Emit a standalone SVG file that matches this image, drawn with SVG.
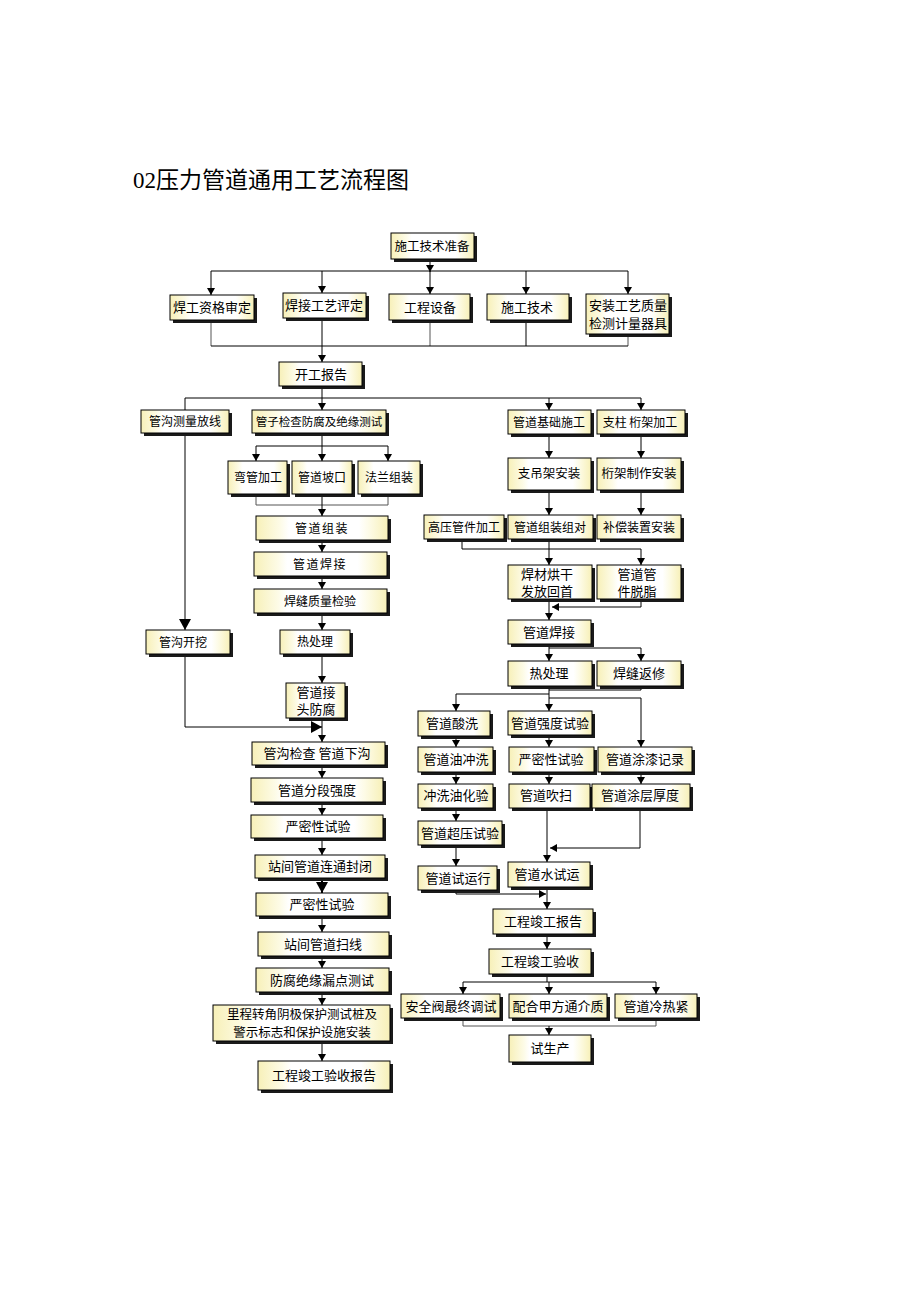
<svg xmlns="http://www.w3.org/2000/svg" width="920" height="1302" viewBox="0 0 920 1302">
<defs>
<linearGradient id="g" x1="0" y1="0" x2="1" y2="0">
<stop offset="0" stop-color="#f7f0b8"/>
<stop offset="0.18" stop-color="#fdfbe6"/>
<stop offset="0.25" stop-color="#ffffff"/>
<stop offset="0.78" stop-color="#ffffff"/>
<stop offset="0.86" stop-color="#fdfbe6"/>
<stop offset="1" stop-color="#f7f0b8"/>
</linearGradient>
<marker id="a" markerUnits="userSpaceOnUse" markerWidth="8" markerHeight="8" refX="7" refY="4" orient="auto"><path d="M0,0 L7,4 L0,8 z" fill="#000"/></marker>
<marker id="A" markerUnits="userSpaceOnUse" markerWidth="12" markerHeight="12" refX="11" refY="6" orient="auto"><path d="M0,0 L11,6 L0,12 z" fill="#000"/></marker>
<style>
.s{fill:#1a1a1a}
.b{fill:url(#g);stroke:#000;stroke-width:1}
text{font-family:"Noto Sans CJK SC","Noto Sans CJK JP",sans-serif;font-size:12.5px;text-anchor:middle;fill:#000}
.t{font-family:"Liberation Serif","Noto Sans CJK SC",serif;font-size:23px;text-anchor:start}
.c path{fill:none;stroke:#000;stroke-width:1}
.c path.m{marker-end:url(#a)}
.c path.M{marker-end:url(#A)}
.c path.g{stroke:#555}
</style>
</defs>
<rect width="920" height="1302" fill="#fff"/>
<text class="t" x="133" y="188">02<tspan font-family="Noto Sans CJK SC,sans-serif">压力管道通用工艺流程图</tspan></text>

<g class="c" id="connectors">
<path class="m" d="M430,259 V272"/>
<path d="M211,271 H628"/>
<path class="m" d="M211,271 V295"/>
<path class="m" d="M322,271 V293"/>
<path class="m" d="M430,271 V294"/>
<path class="m" d="M526,271 V294"/>
<path class="m" d="M628,271 V294"/>
<path class="g" d="M211,320 V346"/>
<path class="g" d="M430,320 V346"/>
<path d="M526,320 V346"/>
<path class="g" d="M628,334 V346"/>
<path d="M211,346 H628"/>
<path class="m" d="M322,318 V362"/>
<path d="M322,386 V398"/>
<path d="M185,398 H641"/>
<path d="M185,398 V410"/>
<path class="m" d="M322,398 V410"/>
<path class="m" d="M549,398 V410"/>
<path class="m" d="M641,398 V410"/>
<path class="M" d="M185,433 V630"/>
<path d="M322,433 V446"/>
<path d="M256,446 H388"/>
<path class="m" d="M256,446 V461"/>
<path class="m" d="M322,446 V461"/>
<path class="m" d="M388,446 V461"/>
<path class="g" d="M256,494 V505 H388 V494"/>
<path class="m" d="M322,494 V516"/>
<path class="m" d="M322,540 V552"/>
<path class="m" d="M322,576 V589"/>
<path class="m" d="M322,613 V630"/>
<path class="m" d="M322,654 V683"/>
<path class="m" d="M322,718 V742"/>
<path class="M" d="M185,654 V727 H322"/>
<path class="m" d="M322,765 V778"/>
<path class="m" d="M322,802 V815"/>
<path class="m" d="M322,838 V855"/>
<path class="M" d="M322,878 V893" style="stroke-width:2"/>
<path class="m" d="M322,916 V932"/>
<path class="m" d="M322,956 V968"/>
<path class="m" d="M322,992 V1005"/>
<path class="m" d="M322,1041 V1061"/>
<path class="m" d="M549,434 V458"/>
<path class="m" d="M641,434 V458"/>
<path class="m" d="M549,490 V515"/>
<path class="m" d="M641,490 V515"/>
<path d="M462,539 V549 H641"/>
<path class="m" d="M549,539 V565"/>
<path class="m" d="M641,549 V565"/>
<path class="m" d="M641,599 V607 H552"/>
<path class="m" d="M549,599 V620"/>
<path class="m" d="M549,644 V661"/>
<path class="m" d="M549,648 H641 V661"/>
<path class="m" d="M549,686 V711"/>
<path d="M641,686 V690 H549"/>
<path d="M456,694 H549"/>
<path class="m" d="M456,694 V711"/>
<path class="m" d="M549,698 H641 V747"/>
<path class="m" d="M456,736 V747"/>
<path class="m" d="M456,772 V784"/>
<path class="m" d="M456,808 V821"/>
<path class="m" d="M456,845 V866"/>
<path class="m" d="M549,735 V747"/>
<path class="m" d="M549,772 V784"/>
<path class="m" d="M641,772 V784"/>
<path class="m" d="M547,808 V862"/>
<path class="m" d="M640,808 V848 H550"/>
<path class="m" d="M456,890 V894 H546"/>
<path class="m" d="M547,887 V909"/>
<path class="m" d="M547,934 V949"/>
<path d="M547,974 V982"/>
<path d="M463,982 H656"/>
<path class="m" d="M463,982 V994"/>
<path class="m" d="M549,982 V994"/>
<path class="m" d="M656,982 V994"/>
<path class="g" d="M463,1018 V1026 H656 V1018"/>
<path class="m" d="M549,1026 V1035"/>
</g>

<g id="n_sgjszb"><rect class="s" x="394" y="236" width="83" height="26"/><rect class="b" x="391" y="233" width="83" height="26"/><text x="432" y="251">施工技术准备</text></g>
<g id="n_hgzg"><rect class="s" x="173" y="298" width="84" height="25"/><rect class="b" x="170" y="295" width="84" height="25"/><text x="212" y="312" style="font-size:13px">焊工资格审定</text></g>
<g id="n_hjgy"><rect class="s" x="286" y="296" width="83" height="25"/><rect class="b" x="283" y="293" width="83" height="25"/><text x="324" y="310" style="font-size:13px">焊接工艺评定</text></g>
<g id="n_gcsb"><rect class="s" x="392" y="297" width="81" height="26"/><rect class="b" x="389" y="294" width="81" height="26"/><text x="430" y="312" style="font-size:13px">工程设备</text></g>
<g id="n_sgjs"><rect class="s" x="490" y="297" width="82" height="26"/><rect class="b" x="487" y="294" width="82" height="26"/><text x="527" y="312" style="font-size:13px">施工技术</text></g>
<g id="n_azgy"><rect class="s" x="589" y="297" width="83" height="40"/><rect class="b" x="586" y="294" width="83" height="40"/><text x="628" y="310" style="font-size:13px">安装工艺质量</text><text x="628" y="328" style="font-size:13px">检测计量器具</text></g>
<g id="n_kgbg"><rect class="s" x="282" y="365" width="83" height="24"/><rect class="b" x="279" y="362" width="83" height="24"/><text x="321" y="379" style="font-size:13px">开工报告</text></g>
<g id="n_gcclfx"><rect class="s" x="144" y="413" width="88" height="23"/><rect class="b" x="141" y="410" width="88" height="23"/><text x="185" y="426" style="font-size:12px">管沟测量放线</text></g>
<g id="n_gzjc"><rect class="s" x="255" y="413" width="134" height="23"/><rect class="b" x="252" y="410" width="134" height="23"/><text x="319" y="426" style="font-size:11.5px">管子检查防腐及绝缘测试</text></g>
<g id="n_wgjg"><rect class="s" x="231" y="464" width="59" height="33"/><rect class="b" x="228" y="461" width="59" height="33"/><text x="258" y="482" style="font-size:12px">弯管加工</text></g>
<g id="n_gdpk"><rect class="s" x="295" y="464" width="60" height="33"/><rect class="b" x="292" y="461" width="60" height="33"/><text x="322" y="482" style="font-size:12px">管道坡口</text></g>
<g id="n_flzz"><rect class="s" x="361" y="464" width="62" height="33"/><rect class="b" x="358" y="461" width="62" height="33"/><text x="389" y="482" style="font-size:12px">法兰组装</text></g>
<g id="n_gdzz"><rect class="s" x="259" y="519" width="132" height="24"/><rect class="b" x="256" y="516" width="132" height="24"/><text x="322" y="533" style="font-size:12px;letter-spacing:1.5px">管道组装</text></g>
<g id="n_gdhj"><rect class="s" x="257" y="555" width="133" height="24"/><rect class="b" x="254" y="552" width="133" height="24"/><text x="320" y="569" style="font-size:12px;letter-spacing:1.5px">管道焊接</text></g>
<g id="n_hfzl"><rect class="s" x="257" y="592" width="133" height="24"/><rect class="b" x="254" y="589" width="133" height="24"/><text x="320" y="606" style="font-size:12px">焊缝质量检验</text></g>
<g id="n_rcl"><rect class="s" x="283" y="633" width="70" height="24"/><rect class="b" x="280" y="630" width="70" height="24"/><text x="315" y="646" style="font-size:12px">热处理</text></g>
<g id="n_jtff"><rect class="s" x="289" y="686" width="59" height="35"/><rect class="b" x="286" y="683" width="59" height="35"/><text x="316" y="697" style="font-size:13px">管道接</text><text x="316" y="714" style="font-size:13px">头防腐</text></g>
<g id="n_gckw"><rect class="s" x="149" y="633" width="84" height="24"/><rect class="b" x="146" y="630" width="84" height="24"/><text x="183" y="647" style="font-size:12px">管沟开挖</text></g>
<g id="n_gcjc"><rect class="s" x="255" y="745" width="133" height="23"/><rect class="b" x="252" y="742" width="133" height="23"/><text x="317" y="758" style="font-size:13px">管沟检查  管道下沟</text></g>
<g id="n_fdqd"><rect class="s" x="254" y="781" width="132" height="24"/><rect class="b" x="251" y="778" width="132" height="24"/><text x="317" y="795" style="font-size:13px">管道分段强度</text></g>
<g id="n_ymx1"><rect class="s" x="254" y="818" width="132" height="23"/><rect class="b" x="251" y="815" width="132" height="23"/><text x="318" y="831" style="font-size:13px">严密性试验</text></g>
<g id="n_zjlt"><rect class="s" x="258" y="858" width="130" height="23"/><rect class="b" x="255" y="855" width="130" height="23"/><text x="320" y="871" style="font-size:13px">站间管道连通封闭</text></g>
<g id="n_ymx2"><rect class="s" x="259" y="896" width="132" height="23"/><rect class="b" x="256" y="893" width="132" height="23"/><text x="322" y="909" style="font-size:13px">严密性试验</text></g>
<g id="n_zjsx"><rect class="s" x="261" y="935" width="131" height="24"/><rect class="b" x="258" y="932" width="131" height="24"/><text x="323" y="949" style="font-size:13px">站间管道扫线</text></g>
<g id="n_ffjy"><rect class="s" x="259" y="971" width="133" height="24"/><rect class="b" x="256" y="968" width="133" height="24"/><text x="322" y="985" style="font-size:13px">防腐绝缘漏点测试</text></g>
<g id="n_lczj"><rect class="s" x="216" y="1008" width="177" height="36"/><rect class="b" x="213" y="1005" width="177" height="36"/><text x="302" y="1019" style="font-size:12.5px">里程转角阴极保护测试桩及</text><text x="302" y="1037" style="font-size:12.5px">警示标志和保护设施安装</text></g>
<g id="n_jgysbg"><rect class="s" x="261" y="1064" width="132" height="29"/><rect class="b" x="258" y="1061" width="132" height="29"/><text x="324" y="1080" style="font-size:13px">工程竣工验收报告</text></g>

<g id="n_jcsg"><rect class="s" x="511" y="413" width="83" height="24"/><rect class="b" x="508" y="410" width="83" height="24"/><text x="549" y="427" style="font-size:12px">管道基础施工</text></g>
<g id="n_zzhj"><rect class="s" x="600" y="413" width="88" height="24"/><rect class="b" x="597" y="410" width="88" height="24"/><text x="640" y="427" style="font-size:12px">支柱 桁架加工</text></g>
<g id="n_zdj"><rect class="s" x="511" y="461" width="83" height="32"/><rect class="b" x="508" y="458" width="83" height="32"/><text x="549" y="478" style="font-size:12.5px">支吊架安装</text></g>
<g id="n_hjzz"><rect class="s" x="600" y="461" width="84" height="32"/><rect class="b" x="597" y="458" width="84" height="32"/><text x="639" y="478" style="font-size:12.5px">桁架制作安装</text></g>
<g id="n_gygj"><rect class="s" x="427" y="518" width="80" height="24"/><rect class="b" x="424" y="515" width="80" height="24"/><text x="464" y="532" style="font-size:12px">高压管件加工</text></g>
<g id="n_zzzd"><rect class="s" x="511" y="518" width="85" height="24"/><rect class="b" x="508" y="515" width="85" height="24"/><text x="550" y="532" style="font-size:12px">管道组装组对</text></g>
<g id="n_bczz"><rect class="s" x="600" y="518" width="84" height="24"/><rect class="b" x="597" y="515" width="84" height="24"/><text x="639" y="532" style="font-size:12px">补偿装置安装</text></g>
<g id="n_hchg"><rect class="s" x="511" y="568" width="84" height="34"/><rect class="b" x="508" y="565" width="84" height="34"/><text x="547" y="579" style="font-size:13px">焊材烘干</text><text x="547" y="596" style="font-size:13px">发放回首</text></g>
<g id="n_gdtz"><rect class="s" x="600" y="568" width="84" height="34"/><rect class="b" x="597" y="565" width="84" height="34"/><text x="637" y="579" style="font-size:13px">管道管</text><text x="637" y="596" style="font-size:13px">件脱脂</text></g>
<g id="n_gdhj2"><rect class="s" x="511" y="623" width="83" height="24"/><rect class="b" x="508" y="620" width="83" height="24"/><text x="549" y="637" style="font-size:13px">管道焊接</text></g>
<g id="n_rcl2"><rect class="s" x="511" y="664" width="84" height="25"/><rect class="b" x="508" y="661" width="84" height="25"/><text x="549" y="678" style="font-size:13px">热处理</text></g>
<g id="n_hffx"><rect class="s" x="600" y="664" width="84" height="25"/><rect class="b" x="597" y="661" width="84" height="25"/><text x="639" y="678" style="font-size:13px">焊缝返修</text></g>
<g id="n_gdsx"><rect class="s" x="421" y="714" width="72" height="25"/><rect class="b" x="418" y="711" width="72" height="25"/><text x="452" y="728" style="font-size:13px">管道酸洗</text></g>
<g id="n_qdsy"><rect class="s" x="511" y="714" width="84" height="24"/><rect class="b" x="508" y="711" width="84" height="24"/><text x="550" y="728" style="font-size:13px">管道强度试验</text></g>
<g id="n_ycx"><rect class="s" x="421" y="750" width="75" height="25"/><rect class="b" x="418" y="747" width="75" height="25"/><text x="456" y="764" style="font-size:13px">管道油冲洗</text></g>
<g id="n_ymx3"><rect class="s" x="512" y="750" width="85" height="25"/><rect class="b" x="509" y="747" width="85" height="25"/><text x="551" y="764" style="font-size:13px">严密性试验</text></g>
<g id="n_tqjl"><rect class="s" x="601" y="750" width="94" height="25"/><rect class="b" x="598" y="747" width="94" height="25"/><text x="645" y="764" style="font-size:13px">管道涂漆记录</text></g>
<g id="n_hyh"><rect class="s" x="421" y="787" width="75" height="24"/><rect class="b" x="418" y="784" width="75" height="24"/><text x="456" y="800" style="font-size:13px">冲洗油化验</text></g>
<g id="n_gdcs"><rect class="s" x="512" y="787" width="81" height="24"/><rect class="b" x="509" y="784" width="81" height="24"/><text x="546" y="800" style="font-size:13px">管道吹扫</text></g>
<g id="n_tchd"><rect class="s" x="595" y="787" width="98" height="24"/><rect class="b" x="592" y="784" width="98" height="24"/><text x="640" y="800" style="font-size:13px">管道涂层厚度</text></g>
<g id="n_cysy"><rect class="s" x="421" y="824" width="84" height="24"/><rect class="b" x="418" y="821" width="84" height="24"/><text x="460" y="838" style="font-size:13px">管道超压试验</text></g>
<g id="n_syx"><rect class="s" x="421" y="869" width="79" height="24"/><rect class="b" x="418" y="866" width="79" height="24"/><text x="458" y="883" style="font-size:13px">管道试运行</text></g>
<g id="n_sss"><rect class="s" x="511" y="865" width="82" height="25"/><rect class="b" x="508" y="862" width="82" height="25"/><text x="547" y="879" style="font-size:13px">管道水试运</text></g>
<g id="n_jgbg"><rect class="s" x="496" y="912" width="100" height="25"/><rect class="b" x="493" y="909" width="100" height="25"/><text x="543" y="926" style="font-size:13px">工程竣工报告</text></g>
<g id="n_jgys"><rect class="s" x="492" y="952" width="102" height="25"/><rect class="b" x="489" y="949" width="102" height="25"/><text x="540" y="966" style="font-size:13px">工程竣工验收</text></g>
<g id="n_aqf"><rect class="s" x="404" y="997" width="99" height="24"/><rect class="b" x="401" y="994" width="99" height="24"/><text x="451" y="1011" style="font-size:13px">安全阀最终调试</text></g>
<g id="n_phjf"><rect class="s" x="512" y="997" width="98" height="24"/><rect class="b" x="509" y="994" width="98" height="24"/><text x="558" y="1011" style="font-size:13px">配合甲方通介质</text></g>
<g id="n_lrj"><rect class="s" x="618" y="997" width="82" height="24"/><rect class="b" x="615" y="994" width="82" height="24"/><text x="656" y="1011" style="font-size:13px">管道冷热紧</text></g>
<g id="n_ssc"><rect class="s" x="512" y="1038" width="82" height="27"/><rect class="b" x="509" y="1035" width="82" height="27"/><text x="550" y="1053" style="font-size:13px">试生产</text></g>
</svg>
